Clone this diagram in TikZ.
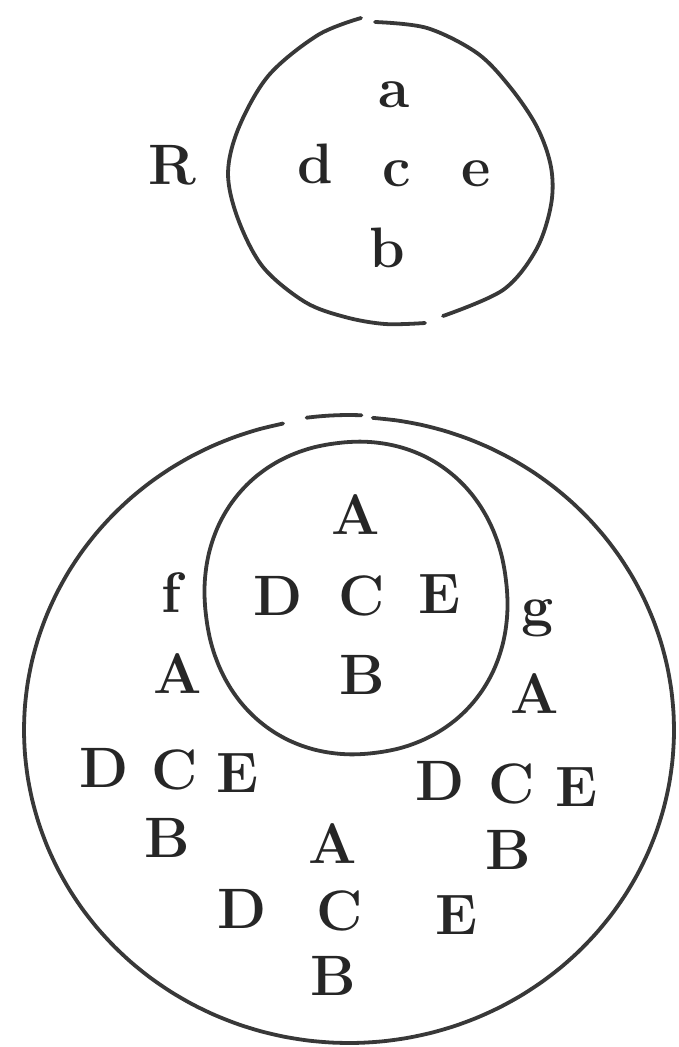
\documentclass[tikz,border=0pt]{standalone}
\begin{document}
\begin{tikzpicture}[x=1pt,y=-1pt,
  curve/.style={line width=3.8pt,draw=black!78,line cap=round,line join=round},
  lbl/.style={inner sep=0pt,text=black!85,font=\fontsize{57}{60}\selectfont\bfseries}]
\useasboundingbox[fill=white] (0,0) rectangle (679,1047);
% top circle (two arcs)
\draw[curve] plot[smooth,tension=0.55] coordinates {(375,22) (427,28) (477,53) (510,87) (537,127) (551,167) (551,205) (536,250) (503,290) (443,316)};
\draw[curve] plot[smooth,tension=0.55] coordinates {(425,323) (385,324) (345,317) (305,302) (263,267) (238,219) (228,173) (239,127) (269,75) (318,35) (361,18)};
% outer circle
\draw[curve] plot[smooth,domain=-85.8:258.3,samples=80,variable=\t] ({349+325*cos(\t)},{730+313*sin(\t)});
\draw[curve] plot[smooth,domain=-97.5:-87.8,samples=6,variable=\t] ({349+325*cos(\t)},{728+313*sin(\t)});
% inner circle
\begin{scope}[shift={(356,598)},rotate=7]
\draw[curve] plot[smooth cycle,domain=2.5:357.5,samples=72,variable=\t]
  ({151*sign(cos(\t))*abs(cos(\t))^0.94},{156*sign(sin(\t))*abs(sin(\t))^0.94});
\end{scope}
% top labels
\node[lbl] (R) at (172,165) {R};
\node[lbl] (ta) at (394,95) {a};
\node[lbl] (td) at (315,164) {d};
\node[lbl] (tc) at (397,174) {c};
\node[lbl] (te) at (476,174) {e};
\node[lbl] (tb) at (387,248) {b};
% inner circle labels
\node[lbl] (iA) at (356,515) {A};
\node[lbl] (iD) at (278,596) {D};
\node[lbl] (iC) at (362,596) {C};
\node[lbl] (iE) at (440,594) {E};
\node[lbl] (iB) at (362,675) {B};
% f group
\node[lbl] (f) at (171,593) {f};
\node[lbl] (fA) at (178,674) {A};
\node[lbl] (fD) at (104,768) {D};
\node[lbl] (fC) at (175,770) {C};
\node[lbl] (fE) at (238,773) {E};
\node[lbl] (fB) at (167,838) {B};
% g group
\node[lbl] (g) at (538,618) {g};
\node[lbl] (gA) at (535,694) {A};
\node[lbl] (gD) at (440,781) {D};
\node[lbl] (gC) at (512,784) {C};
\node[lbl] (gE) at (577,787) {E};
\node[lbl] (gB) at (508,850) {B};
% bottom group
\node[lbl] (hA) at (333,844) {A};
\node[lbl] (hD) at (242,909) {D};
\node[lbl] (hC) at (340,911) {C};
\node[lbl] (hE) at (457,915) {E};
\node[lbl] (hB) at (333,976) {B};
\end{tikzpicture}
\end{document}
